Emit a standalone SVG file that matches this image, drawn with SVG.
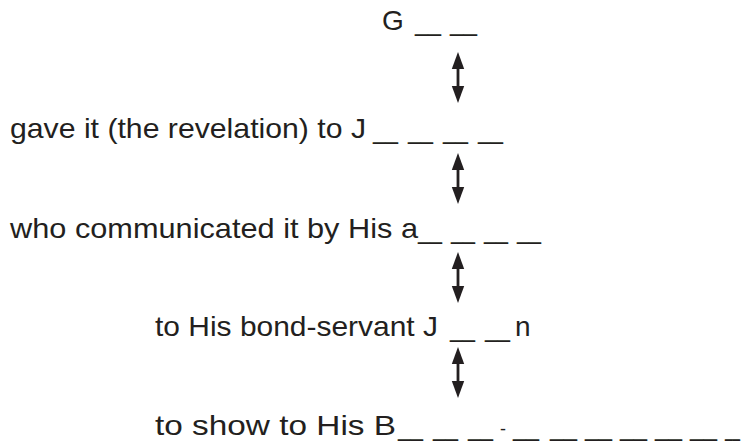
<svg xmlns="http://www.w3.org/2000/svg" width="744" height="447" viewBox="0 0 744 447">
<style>
.t{font-family:"Liberation Sans","Noto Sans",Arial,sans-serif;font-size:28px;fill:#231f20}
.h{font-size:18px}
.arr{fill:#231f20}
</style>
<defs>
<g id="dblarrow">
<path d="M0,0 L6.2,17 L-6.2,17 Z"/>
<rect x="-1.4" y="16" width="2.8" height="19"/>
<path d="M0,51 L6.2,34 L-6.2,34 Z"/>
</g>
</defs>
<rect width="744" height="447" fill="#fff"/>
<g id="n1"><text class="t" y="30"><tspan x="382">G</tspan> <tspan x="415" textLength="26" lengthAdjust="spacingAndGlyphs">__</tspan> <tspan x="450" textLength="27" lengthAdjust="spacingAndGlyphs">__</tspan></text></g>
<g id="n2"><text class="t" y="138"><tspan x="10" textLength="356" lengthAdjust="spacingAndGlyphs">gave it (the revelation) to J</tspan> <tspan x="373" textLength="25" lengthAdjust="spacingAndGlyphs">__</tspan> <tspan x="408" textLength="25" lengthAdjust="spacingAndGlyphs">__</tspan> <tspan x="443" textLength="25" lengthAdjust="spacingAndGlyphs">__</tspan> <tspan x="478" textLength="25" lengthAdjust="spacingAndGlyphs">__</tspan></text></g>
<g id="n3"><text class="t" y="238"><tspan x="10" textLength="408" lengthAdjust="spacingAndGlyphs">who communicated it by His a</tspan><tspan x="418" textLength="24" lengthAdjust="spacingAndGlyphs">__</tspan> <tspan x="451" textLength="24" lengthAdjust="spacingAndGlyphs">__</tspan> <tspan x="484" textLength="24" lengthAdjust="spacingAndGlyphs">__</tspan> <tspan x="517" textLength="24" lengthAdjust="spacingAndGlyphs">__</tspan></text></g>
<g id="n4"><text class="t" y="336"><tspan x="155" textLength="283" lengthAdjust="spacingAndGlyphs">to His bond-servant J</tspan> <tspan x="450" textLength="25" lengthAdjust="spacingAndGlyphs">__</tspan> <tspan x="485" textLength="25" lengthAdjust="spacingAndGlyphs">__</tspan> <tspan x="515">n</tspan></text></g>
<g id="n5"><text class="t" y="435"><tspan x="155" textLength="241" lengthAdjust="spacingAndGlyphs">to show to His B</tspan><tspan x="398" textLength="25" lengthAdjust="spacingAndGlyphs">__</tspan> <tspan x="433" textLength="25" lengthAdjust="spacingAndGlyphs">__</tspan> <tspan x="468" textLength="25" lengthAdjust="spacingAndGlyphs">__</tspan><tspan class="h" x="500">-</tspan><tspan x="513" textLength="26" lengthAdjust="spacingAndGlyphs">__</tspan> <tspan x="550" textLength="27" lengthAdjust="spacingAndGlyphs">__</tspan> <tspan x="585" textLength="27" lengthAdjust="spacingAndGlyphs">__</tspan> <tspan x="620" textLength="27" lengthAdjust="spacingAndGlyphs">__</tspan> <tspan x="655" textLength="27" lengthAdjust="spacingAndGlyphs">__</tspan> <tspan x="690" textLength="27" lengthAdjust="spacingAndGlyphs">__</tspan> <tspan x="725" textLength="15" lengthAdjust="spacingAndGlyphs">__</tspan></text></g>
<g id="connectors" class="arr">
<use href="#dblarrow" x="458" y="52"/>
<use href="#dblarrow" x="458" y="153"/>
<use href="#dblarrow" x="458" y="252"/>
<use href="#dblarrow" x="458" y="347"/>
</g>
</svg>
